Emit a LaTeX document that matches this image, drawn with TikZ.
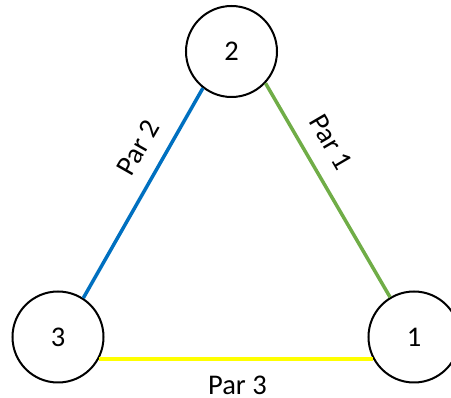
\documentclass[tikz,border=0pt]{standalone}
\usepackage{fontspec}
\setmainfont{Carlito}
\definecolor{parblue}{HTML}{0070C0}
\definecolor{pargreen}{HTML}{70AD47}
\definecolor{paryellow}{HTML}{FFFF00}
\begin{document}
\begin{tikzpicture}[x=1pt,y=-1pt,
  vertex/.style={draw=black,line width=2pt,circle,minimum size=91pt,inner sep=0pt,font=\fontsize{28.5}{32}\selectfont},
  edge/.style={line width=3.5pt},
  lab/.style={font=\fontsize{28.5}{32}\selectfont,inner sep=0pt}]
\useasboundingbox (0,0) rectangle (451,398);
\clip (0,0) rectangle (451,398);
\node[vertex] (n2) at (231.5,51.5) {2};
\node[vertex] (n3) at (58,337) {3};
\node[vertex] (n1) at (414,337) {1};
\draw[edge,parblue] (n2.232) -- (n3.57);
\draw[edge,pargreen] (n2.-43) -- (n1.121);
\draw[edge,paryellow] (n3.-28.5) -- (n1.208.5);
\node[lab,rotate=60.3] (p2) at (138,148) {Par 2};
\node[lab,rotate=-59.7] (p1) at (331,142) {Par 1};
\node[lab,anchor=base] (p3) at (237.5,395) {Par 3};
\end{tikzpicture}
\end{document}
